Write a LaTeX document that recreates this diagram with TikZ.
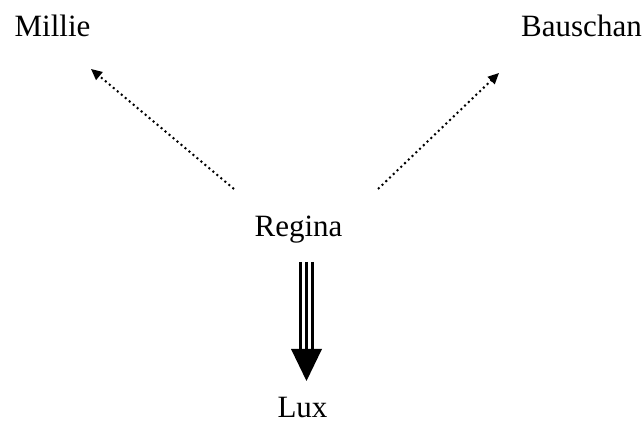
\documentclass[tikz,border=0pt]{standalone}
\usepackage{fontspec}
\setmainfont{Liberation Serif}
\usetikzlibrary{arrows.meta}
\begin{document}
\begin{tikzpicture}[x=1pt,y=1pt,
  lbl/.style={inner sep=0pt,anchor=base,font=\fontsize{31}{37}\selectfont},
  dotarrow/.style={line width=2pt,dash pattern=on 2pt off 3.2pt,-{Triangle[length=11pt,width=10pt]}},
  triline/.style={line width=3pt}]
\useasboundingbox (0,0) rectangle (643,425);
\node[lbl] (millie) at (52.5,388) {Millie};
\node[lbl] (bauschan) at (581.5,388) {Bauschan};
\node[lbl] (regina) at (298.5,188) {Regina};
\node[lbl] (lux) at (302.5,7) {Lux};
\coordinate (lt) at (234,236);
\coordinate (lh) at (91,356);
\coordinate (rt) at (378,236);
\coordinate (rh) at (499,352);
\coordinate (tt) at (306.5,163);
\coordinate (tb) at (306.5,76);
\coordinate (tip) at (306.5,44);
\draw[dotarrow] (lt) -- (lh);
\draw[dotarrow] (rt) -- (rh);
\draw[triline] ([xshift=-6pt]tt) -- ([xshift=-6pt]tb);
\draw[triline] (tt) -- (tb);
\draw[triline] ([xshift=6pt]tt) -- ([xshift=6pt]tb);
\fill ([xshift=-15.5pt]tb) -- ([xshift=15.5pt]tb) -- (tip) -- cycle;
\end{tikzpicture}
\end{document}
